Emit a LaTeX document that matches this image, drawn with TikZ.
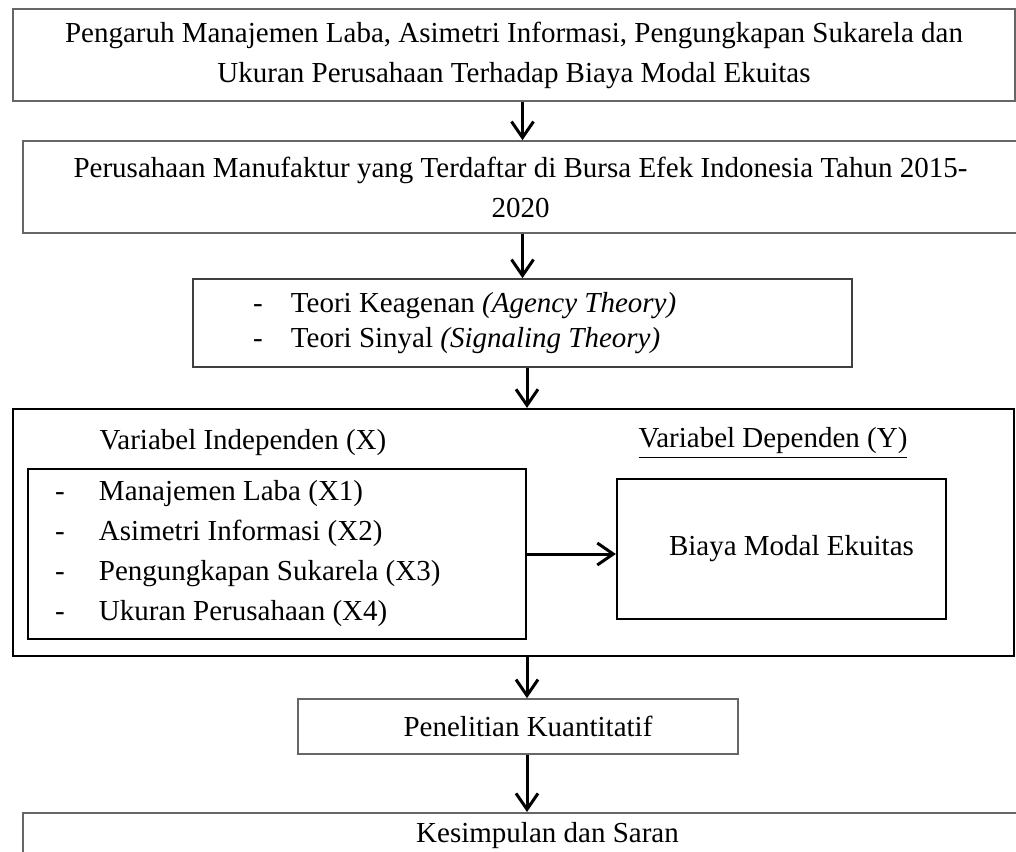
\documentclass[tikz,border=0pt]{standalone}
\usepackage{fontspec}
\setmainfont{Liberation Serif}
\usetikzlibrary{arrows.meta,positioning}

\newcommand{\listitem}[2]{\makebox[#1][l]{-}#2}

\begin{document}
\begin{tikzpicture}[
      x=0.5pt,y=-0.5pt,
      font=\fontsize{14.5}{20}\selectfont,
      box/.style={draw=black!60,line width=0.8pt,inner sep=0pt,align=center},
      frame/.style={draw=black,line width=1.1pt,inner sep=0pt},
      arr/.style={-{Straight Barb[length=8pt,width=11pt]},line width=1.5pt},
  ]
  \useasboundingbox (0,0) rectangle (1016,851);
  \clip (0,0) rectangle (1016,851);

  % Title and population
  \node[box,minimum width=501pt,minimum height=46pt] (title) at (514,55)
    {Pengaruh Manajemen Laba, Asimetri Informasi, Pengungkapan Sukarela dan\\
     Ukuran Perusahaan Terhadap Biaya Modal Ekuitas};
  \node[box,minimum width=497.5pt,minimum height=46pt] (popul) at (520.5,187)
    {Perusahaan Manufaktur yang Terdaftar di Bursa Efek Indonesia Tahun 2015-\\
     2020};

  % Theories
  \node[box,draw=black!75,minimum width=329.5pt,minimum height=44pt,
        text width=269.5pt,align=flush left,font=\fontsize{14.5}{17.5}\selectfont]
    (theory) at (522.5,323)
    {\listitem{19pt}{Teori Keagenan \textit{(Agency Theory)}}\\
     \listitem{19pt}{Teori Sinyal \textit{(Signaling Theory)}}};

  % Variables
  \node[frame,minimum width=500.5pt,minimum height=123.5pt] (model) at (513.5,532.5) {};
  \node (indep) at (243,443) {Variabel Independen (X)};
  \node (dep) at (773,443) {\underline{Variabel Dependen (Y)}};
  \node[frame,minimum width=249pt,minimum height=85pt,text width=222pt,align=flush left]
    (xvars) at (277,554)
    {\listitem{22pt}{Manajemen Laba (X1)}\\
     \listitem{22pt}{Asimetri Informasi (X2)}\\
     \listitem{22pt}{Pengungkapan Sukarela (X3)}\\
     \listitem{22pt}{Ukuran Perusahaan (X4)}};
  \node[frame,minimum width=164.5pt,minimum height=70pt] (yvar) at (781.5,549)
    {\hspace{10pt}Biaya Modal Ekuitas};

  % Method and result
  \node[box,minimum width=220pt,minimum height=27.5pt] (method) at (518,726.5)
    {\hspace{10pt}Penelitian Kuantitatif};
  \node[box,anchor=north,minimum width=497.5pt,minimum height=23pt] (result) at (520.5,812)
    {\hspace{27pt}Kesimpulan dan Saran};

  \coordinate (axis) at (527,0);

  % Flow
  \draw[arr] (title.south -| theory) -- (popul.north -| theory);
  \draw[arr] (popul.south -| theory) -- (theory.north);
  \draw[arr] (theory.south -| axis) -- (model.north -| axis);
  \draw[arr] (xvars.east) -- (xvars.east -| yvar.west);
  \draw[arr] (model.south -| axis) -- (method.north -| axis);
  \draw[arr] (method.south -| axis) -- (result.north -| axis);
\end{tikzpicture}
\end{document}
